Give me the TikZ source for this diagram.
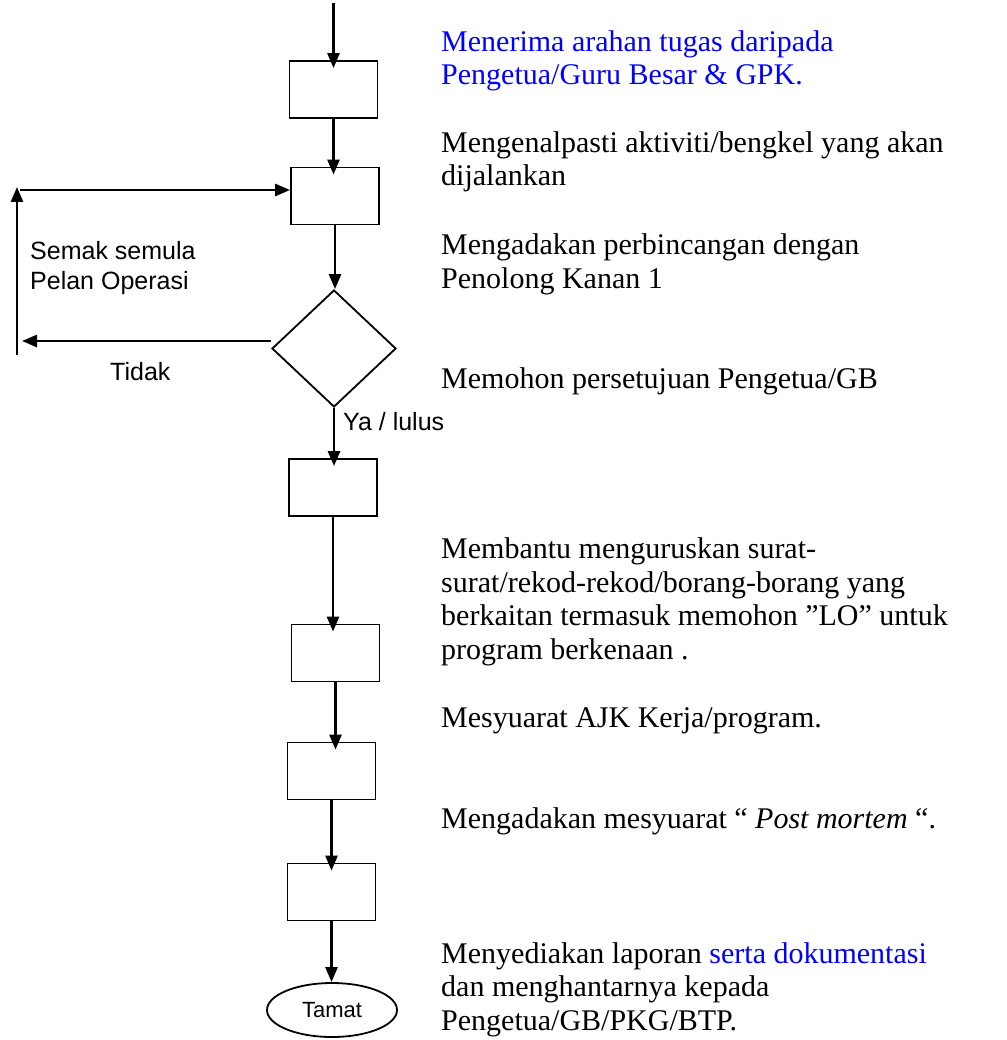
\documentclass[tikz,border=0pt]{standalone}
\usepackage{fontspec}
\setmainfont{Liberation Serif}
\newfontfamily\arialfont{Liberation Sans}
\usepackage{tikz}
\usetikzlibrary{arrows.meta,shapes.geometric}
\usepackage{xcolor}

\begin{document}
\begin{tikzpicture}[x=1pt,y=-1pt,
  box/.style={draw,line width=1.8pt,minimum width=88pt,minimum height=57pt,inner sep=0pt},
  arr/.style={-{Triangle[length=15pt,width=12pt]},line width=2.6pt},
  into/.style={arr,shorten >=-8pt},
  note/.style={anchor=base west,align=left,inner sep=0pt,font=\fontsize{30}{33.5}\selectfont},
  lbl/.style={anchor=base west,align=left,inner sep=0pt,font=\arialfont\fontsize{25}{30}\selectfont}]
  \useasboundingbox (0,0) rectangle (1006,1040);

  \node[box] (b1) at (333.5,89.5) {};
  \node[box] (b2) at (335,196) {};
  \node[draw,diamond,aspect=1.06,line width=1.8pt,minimum width=124pt,minimum height=117pt,inner sep=0pt] (d) at (334,348.5) {};
  \node[box] (b3) at (333,487.5) {};
  \node[box] (b4) at (335.5,653) {};
  \node[box] (b5) at (331.5,771) {};
  \node[box] (b6) at (331.5,892) {};
  \node[draw,ellipse,line width=1.8pt,minimum width=130pt,minimum height=54pt,inner sep=0pt,font=\arialfont\fontsize{22}{26}\selectfont] (end) at (332,1010) {Tamat};

  \coordinate (top) at (333.5,3);
  \draw[into] (top) -- (b1.north);
  \draw[into] (b1.south) -- (b1.south |- b2.north);
  \draw[arr] (b2.south) -- (b2.south |- d.north);
  \draw[into] (d.south) -- (d.south |- b3.north);
  \draw[into] (b3.south) -- (b3.south |- b4.north);
  \draw[into] (b4.south) -- (b4.south |- b5.north);
  \draw[into] (b5.south) -- (b5.south |- b6.north);
  \draw[arr] (b6.south) -- (b6.south |- end.north);

  \coordinate (l1) at (22,341);
  \coordinate (l2) at (17,355);
  \coordinate (l3) at (17,187);
  \coordinate (l4) at (20,190);
  \draw[arr] (l1 -| d.west) -- (l1);
  \draw[arr] (l2) -- (l3);
  \draw[arr] (l4) -- (l4 -| b2.west);

  \node[lbl] (semak) at (30,290) {Semak semula\\Pelan Operasi};
  \node[lbl] (tidak) at (110,380) {Tidak};
  \node[lbl] (ya) at (343,430) {Ya / lulus};

  \node[note,text=blue] (t1) at (441,85) {Menerima arahan tugas daripada\\Pengetua/Guru Besar \& GPK.};
  \node[note] (t2) at (441,186) {Mengenalpasti aktiviti/bengkel yang akan\\dijalankan};
  \node[note] (t3) at (441,288) {Mengadakan perbincangan dengan\\Penolong Kanan 1};
  \node[note] (t4) at (441,388) {Memohon persetujuan Pengetua/GB};
  \node[note] (t5) at (441,659) {Membantu menguruskan surat-\\surat/rekod-rekod/borang-borang yang\\berkaitan termasuk memohon ”LO” untuk\\program berkenaan .};
  \node[note] (t6) at (441,727) {Mesyuarat AJK Kerja/program.};
  \node[note] (t7) at (441,828) {Mengadakan mesyuarat “ \textit{Post mortem} “.};
  \node[note] (t8) at (441,1030) {Menyediakan laporan \textcolor{blue}{serta dokumentasi}\\dan menghantarnya kepada\\Pengetua/GB/PKG/BTP.};
\end{tikzpicture}
\end{document}
